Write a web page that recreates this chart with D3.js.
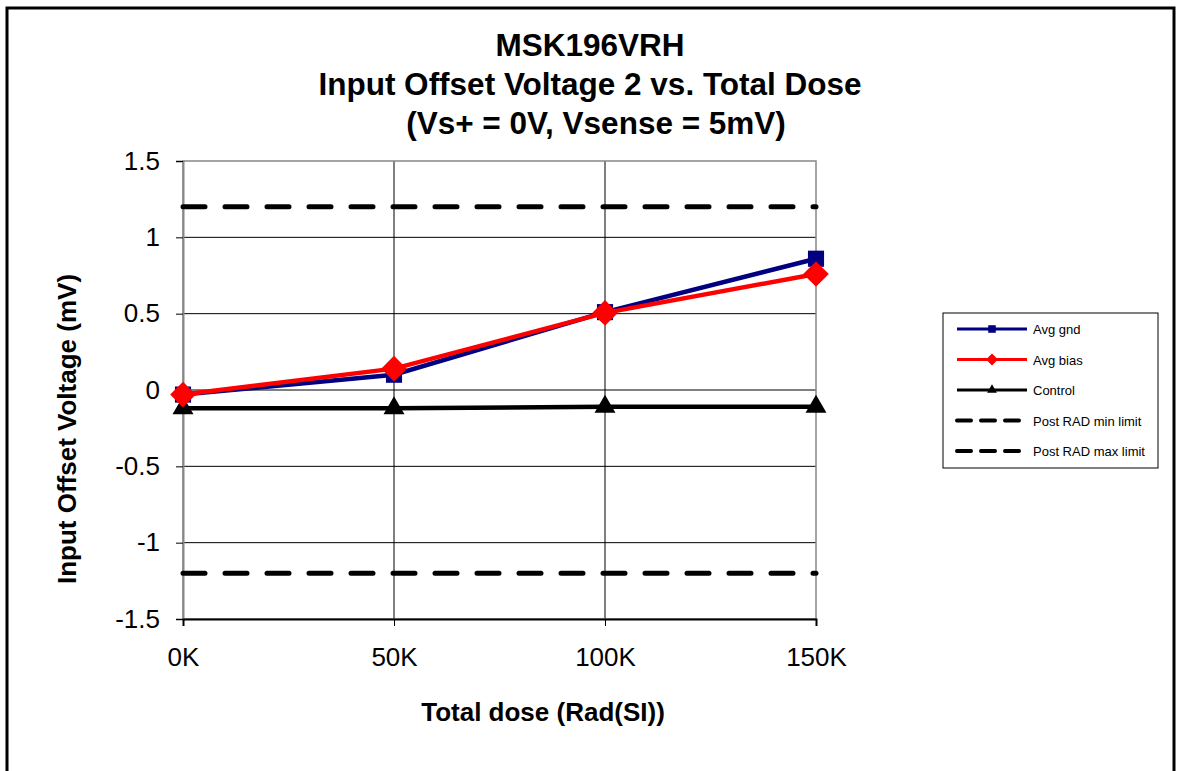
<!DOCTYPE html>
<html lang="en">
<head>
<meta charset="UTF-8">
<title>MSK196VRH Input Offset Voltage 2</title>
<script src="https://cdnjs.cloudflare.com/ajax/libs/d3/7.8.5/d3.min.js"></script>
<style>
    body { margin: 0; background: #fff; font-family: "Liberation Sans", Arial, sans-serif; }
    svg { display: block; }
</style>
</head>
<body>
<svg id="chart" width="1177" height="771"></svg>
<script>
    // data
    const doses = [0, 50, 100, 150];
    const doseLabels = ["0K", "50K", "100K", "150K"];
    const avgGnd = [-0.03, 0.10, 0.51, 0.86];
    const avgBias = [-0.03, 0.14, 0.505, 0.76];
    const control = [-0.12, -0.12, -0.11, -0.11];
    const minLimit = [-1.2, -1.2, -1.2, -1.2];
    const maxLimit = [1.2, 1.2, 1.2, 1.2];
    const yTicks = [-1.5, -1, -0.5, 0, 0.5, 1, 1.5];
    const titleLines = ["MSK196VRH", "Input Offset Voltage 2 vs. Total Dose", "(Vs+ = 0V, Vsense = 5mV)"];

    const svg = d3.select('#chart');
    const plotL = 183, plotR = 816, plotT = 161, plotB = 619;
    const font = '"Liberation Sans", Arial, sans-serif';

    const x = d3.scaleLinear().domain([0, 150]).range([plotL, plotR]);
    const y = d3.scaleLinear().domain([-1.5, 1.5]).range([plotB, plotT]);

    // outer frame
    svg.append('rect').attr('x', 7).attr('y', 8).attr('width', 1167).attr('height', 775)
        .attr('fill', 'none').attr('stroke', '#000').attr('stroke-width', 3);

    // title
    svg.append('g').selectAll('text').data(titleLines).enter().append('text')
        .attr('x', (d, i) => i === 2 ? 596 : 590)
        .attr('y', (d, i) => 56 + i * 39)
        .attr('text-anchor', 'middle')
        .attr('font-size', 31.5).attr('font-weight', 'bold')
        .text(d => d);

    // grid
    const grid = svg.append('g');
    grid.selectAll('line.h').data(yTicks.slice(1, -1)).enter().append('line')
        .attr('x1', plotL).attr('x2', plotR)
        .attr('y1', d => y(d)).attr('y2', d => y(d))
        .attr('stroke', '#000').attr('stroke-width', 1);
    grid.selectAll('line.v').data(doses.slice(1, -1)).enter().append('line')
        .attr('x1', d => x(d)).attr('x2', d => x(d))
        .attr('y1', plotT).attr('y2', plotB)
        .attr('stroke', '#000').attr('stroke-width', 1);

    // plot border
    svg.append('rect').attr('x', plotL).attr('y', plotT).attr('width', plotR - plotL).attr('height', plotB - plotT)
        .attr('fill', 'none').attr('stroke', '#888').attr('stroke-width', 1.5);

    // axes
    const yAxis = svg.append('g').attr('transform', `translate(${plotL},0)`)
        .call(d3.axisLeft(y).tickValues(yTicks).tickSize(7).tickPadding(16).tickFormat(d => String(d)));
    yAxis.select('.domain').attr('stroke', '#888').attr('stroke-width', 2);
    yAxis.selectAll('.tick line').attr('stroke', '#000');
    yAxis.selectAll('text').attr('font-size', 26).attr('font-family', font).attr('fill', '#000');

    const xAxis = svg.append('g').attr('transform', `translate(0,${plotB})`)
        .call(d3.axisBottom(x).tickValues(doses).tickSize(7).tickPadding(22).tickFormat((d, i) => doseLabels[i]));
    xAxis.select('.domain').attr('stroke', '#000').attr('stroke-width', 2);
    xAxis.selectAll('.tick line').attr('stroke', '#000');
    xAxis.selectAll('text').attr('font-size', 26).attr('font-family', font).attr('fill', '#000');

    // axis titles
    svg.append('text').attr('x', 543).attr('y', 721).attr('text-anchor', 'middle')
        .attr('font-size', 26).attr('font-weight', 'bold').text('Total dose (Rad(SI))');
    svg.append('text').attr('transform', 'translate(76,429) rotate(-90)').attr('text-anchor', 'middle')
        .attr('font-size', 26).attr('font-weight', 'bold').text('Input Offset Voltage (mV)');

    const series = [
        { name: 'Avg gnd', values: avgGnd, color: '#000080', width: 4.5, dash: null, marker: d3.symbolSquare, size: 260 },
        { name: 'Avg bias', values: avgBias, color: '#ff0000', width: 4.5, dash: null, marker: d3.symbolDiamond2, size: 420 },
        { name: 'Control', values: control, color: '#000000', width: 4.5, dash: null, marker: d3.symbolTriangle, size: 190 },
        { name: 'Post RAD min limit', values: minLimit, color: '#000000', width: 5, dash: '22,20', marker: null },
        { name: 'Post RAD max limit', values: maxLimit, color: '#000000', width: 5, dash: '22,20', marker: null }
    ];

    const line = d3.line().x((d, i) => x(doses[i])).y(d => y(d));

    // draw limits first, then control, gnd, bias
    const order = [3, 4, 2, 0, 1];
    order.forEach(k => {
        const s = series[k];
        svg.append('path').attr('d', line(s.values))
            .attr('fill', 'none').attr('stroke', s.color).attr('stroke-width', s.width)
            .attr('stroke-linecap', s.dash ? 'round' : 'butt')
            .attr('stroke-dasharray', s.dash);
        if (s.marker) {
            svg.append('g').selectAll('path').data(s.values).enter().append('path')
                .attr('d', d3.symbol().type(s.marker).size(s.size))
                .attr('transform', (d, i) => `translate(${x(doses[i])},${y(d)})`)
                .attr('fill', s.color);
        }
    });

    // legend
    const lg = svg.append('g').attr('transform', 'translate(943,313)');
    lg.append('rect').attr('width', 215).attr('height', 155)
        .attr('fill', '#fff').attr('stroke', '#000').attr('stroke-width', 1);
    series.forEach((s, i) => {
        const ly = 16 + i * 30.5;
        lg.append('line').attr('x1', 14).attr('x2', 84).attr('y1', ly).attr('y2', ly)
            .attr('stroke', s.color).attr('stroke-width', s.dash ? 4 : 3)
            .attr('stroke-dasharray', s.dash ? '14,10' : null)
            .attr('stroke-linecap', s.dash ? 'round' : 'butt');
        if (s.marker) {
            lg.append('path').attr('d', d3.symbol().type(s.marker).size(s.size * 0.22))
                .attr('transform', `translate(49,${ly})`).attr('fill', s.color);
        }
        lg.append('text').attr('x', 90).attr('y', ly + 5).attr('font-size', 13).text(s.name);
    });
</script>
</body>
</html>
